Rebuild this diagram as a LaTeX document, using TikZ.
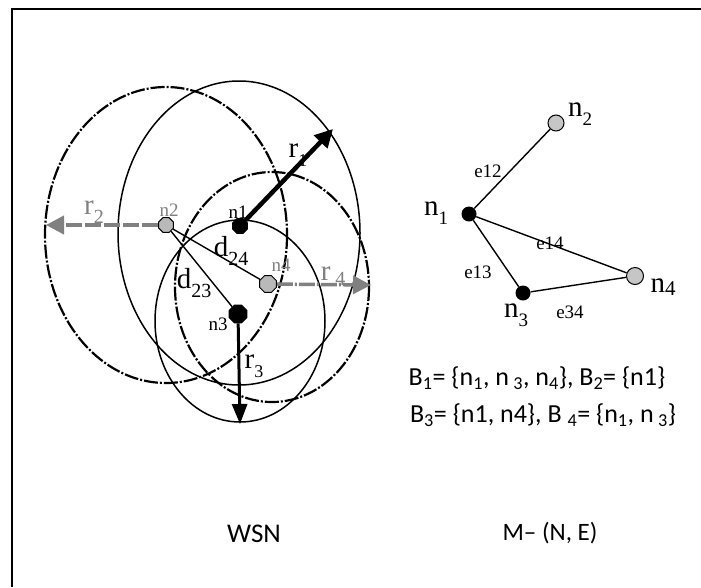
\documentclass[tikz,border=0pt]{standalone}
\usepackage{fontspec}
\setmainfont{Carlito}
\newfontfamily\tnr{Liberation Serif}
\usetikzlibrary{arrows.meta,shapes.geometric}
\begin{document}
\begin{tikzpicture}[x=1pt,y=-1pt,
  oct/.style={regular polygon,regular polygon sides=8,inner sep=0pt,minimum size=#1,draw=black,line width=1pt},
  blk/.style={oct=#1,fill=black},
  gry/.style={oct=#1,fill=gray!55},
  gcirc/.style={circle,inner sep=0pt,minimum size=16pt,draw=black,line width=1pt,fill=gray!45},
  bcirc/.style={circle,inner sep=0pt,minimum size=15pt,fill=black},
  dd/.style={line width=2.2pt,dash pattern=on 14pt off 2pt on 2pt off 2pt},
  sc/.style={line width=1.5pt},
  edge/.style={line width=1.4pt},
  small/.style={font=\tnr\fontsize{19}{19}\selectfont,inner sep=0pt},
  big/.style={font=\tnr\fontsize{29}{29}\selectfont,inner sep=0pt},
  elab/.style={font=\tnr\fontsize{19}{19}\selectfont,inner sep=0pt},
  nlab/.style={font=\tnr\fontsize{29}{29}\selectfont,inner sep=0pt},
  sans/.style={font=\fontsize{26}{26}\selectfont,inner sep=0pt},
  bigtip/.style={-{Triangle[length=18pt,width=18pt]}}
]
\useasboundingbox (0,0) rectangle (701,587);
\draw[line width=2pt] (12,587) -- (12,9) -- (701,9);

% ranges
\draw[dd] (166,235) ellipse [x radius=121, y radius=148];
\draw[sc] (239,233) ellipse [x radius=121, y radius=152];
\draw[dd] (272,287) ellipse [x radius=97, y radius=115];
\draw[sc] (240,321) ellipse [x radius=85, y radius=101];

% nodes of WSN
\node[blk=16] (a1) at (240,226) {};
\node[gry=16] (a2) at (166,225) {};
\node[blk=19] (a3) at (238,314) {};
\node[gry=18] (a4) at (268,284) {};

\coordinate (t1) at (333,129);
\coordinate (t2) at (46,225);
\coordinate (t3) at (240,424);
\coordinate (t4) at (371,285);

\draw[edge] (a2) -- (a4);
\draw[edge] (a2) -- (a3);
\draw[line width=4.5pt,bigtip] (a1) -- (t1);
\draw[gray,line width=4pt,dash pattern=on 16pt off 3pt,bigtip] (a2) -- (t2);
\draw[gray,line width=3.5pt,dash pattern=on 16pt off 2pt on 2pt off 2pt,bigtip] (a4) -- (t4);
\draw[line width=3pt,-{Triangle[length=20pt,width=15pt]}] (a3) -- (t3);

\node[small,text=gray] (l2) at (169,210) {n2};
\node[small] (l1) at (238,212) {n1};
\node[small,text=gray] (l4) at (281,265) {n4};
\node[small] (l3) at (218,324) {n3};
\node[big] (d24) at (231,251) {d\raisebox{-0.3em}{\fontsize{20}{20}\selectfont 24}};
\node[big] (d23) at (194,283) {d\raisebox{-0.3em}{\fontsize{20}{20}\selectfont 23}};
\node[big] (lr1) at (298,155) {r\raisebox{-0.3em}{\fontsize{18}{18}\selectfont 1}};
\node[big,text=gray] (lr2) at (94,212) {r\raisebox{-0.3em}{\fontsize{20}{20}\selectfont 2}};
\node[big,text=gray] (lr4) at (333,276) {r\,\raisebox{-0.15em}{\fontsize{20}{20}\selectfont 4}};
\node[big] (lr3) at (254,366) {r\raisebox{-0.3em}{\fontsize{18}{18}\selectfont 3}};

% graph M
\node[bcirc] (b1) at (469,214) {};
\node[gcirc] (b2) at (556,123) {};
\node[bcirc] (b3) at (523,293) {};
\node[gcirc,minimum size=17pt] (b4) at (635,276) {};
\draw[edge] (b1) -- (b2);
\draw[edge] (b1) -- (b3);
\draw[edge] (b1) -- (b4);
\draw[edge] (b3) -- (b4);

\node[nlab] (m1) at (436,213) {n\raisebox{-0.3em}{\fontsize{19}{19}\selectfont 1}};
\node[nlab] (m2) at (580,114) {n\raisebox{-0.3em}{\fontsize{19}{19}\selectfont 2}};
\node[nlab] (m3) at (516,315) {n\raisebox{-0.3em}{\fontsize{19}{19}\selectfont 3}};
\node[nlab] (m4) at (663,287) {n\raisebox{-0.1em}{\fontsize{21}{21}\selectfont 4}};
\node[elab] (e12) at (488,171) {e12};
\node[elab] (e14) at (550,243) {e14};
\node[elab] (e13) at (478,272) {e13};
\node[elab] (e34) at (570,312) {e34};

\node[sans] (B1) at (537,378) {B\textsubscript{1}= \{n\textsubscript{1}, n\,\textsubscript{3}, n\textsubscript{4}\}, B\textsubscript{2}= \{n1\}};
\node[sans] (B2) at (543,415) {B\textsubscript{3}= \{n1, n4\}, B \textsubscript{4}= \{n\textsubscript{1}, n\,\textsubscript{3}\}};
\node[sans,font=\fontsize{27}{27}\selectfont] (wsn) at (254,534) {WSN};
\node[sans,font=\fontsize{25}{25}\selectfont] (mne) at (550,533) {M– (N, E)};
\end{tikzpicture}
\end{document}
